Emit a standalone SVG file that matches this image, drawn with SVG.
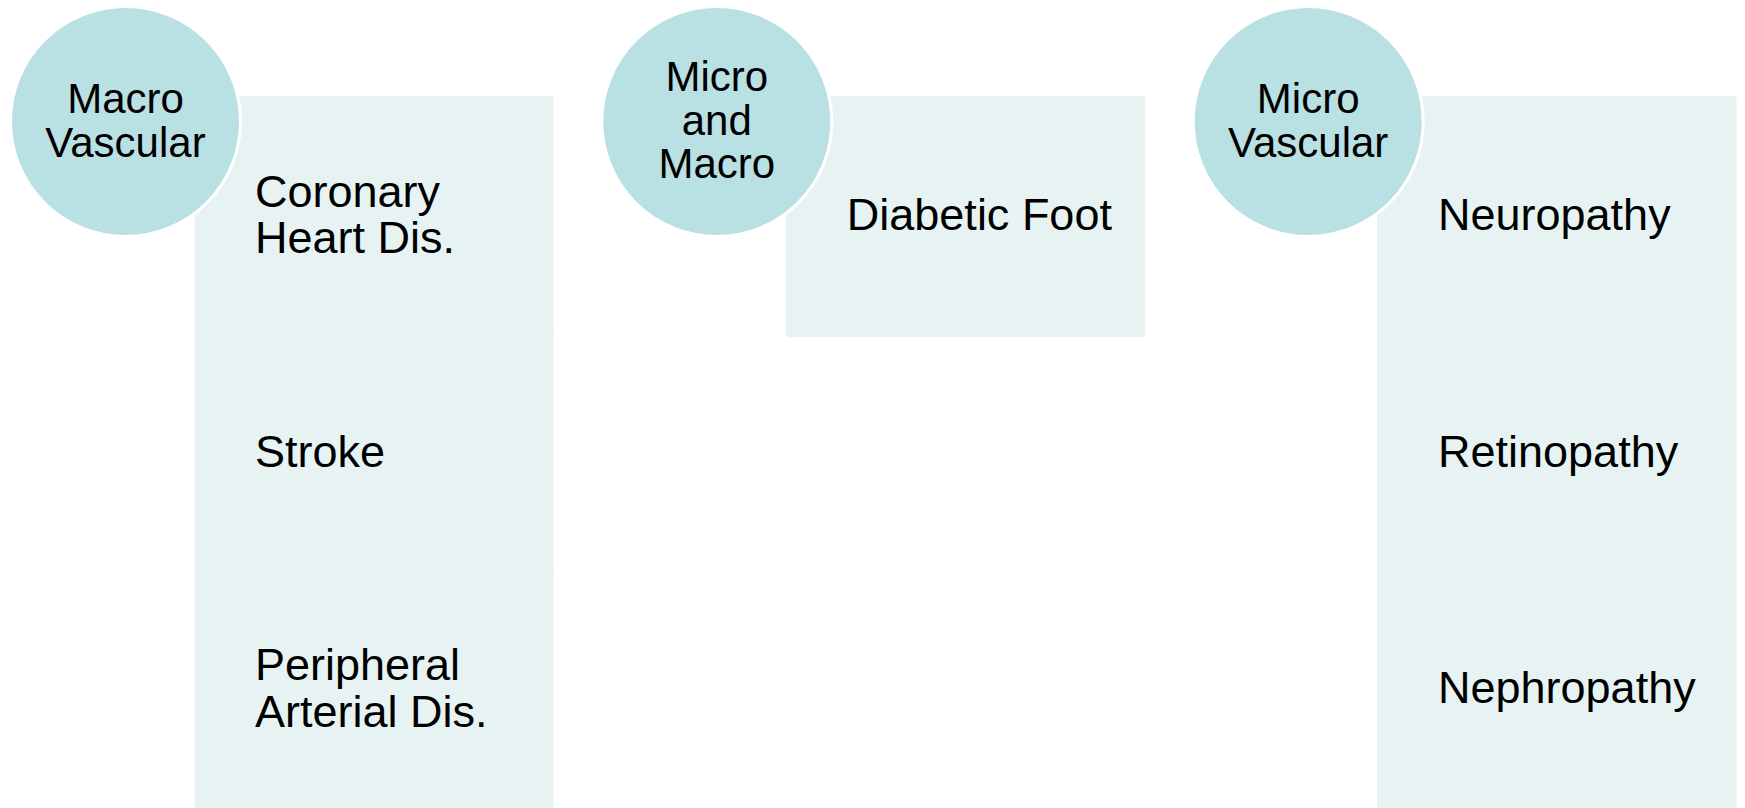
<svg xmlns="http://www.w3.org/2000/svg" width="1745" height="808" viewBox="0 0 1745 808">
<style>
.row{fill:#e7f3f3}
.sep{stroke:#e3f0f0;stroke-width:1}
.circ{fill:#b9e0e3;stroke:#ffffff;stroke-width:3}
.t{font-family:"Liberation Sans",Arial,sans-serif;font-size:45px;fill:#000}
.c{font-family:"Liberation Sans",Arial,sans-serif;font-size:42px;fill:#000;text-anchor:middle}
</style>
<rect width="1745" height="808" fill="#ffffff"/>
<g id="col1-rows">
<rect class="row" x="194.5" y="96" width="359" height="716" rx="3"/>
<line class="sep" x1="194.5" y1="333.5" x2="553.5" y2="333.5"/>
<line class="sep" x1="194.5" y1="570.5" x2="553.5" y2="570.5"/>
</g>
<g id="node-coronary"><text class="t" x="255" y="206.7">Coronary</text><text class="t" x="255" y="253.3">Heart Dis.</text></g>
<g id="node-stroke"><text class="t" x="255" y="466.7">Stroke</text></g>
<g id="node-peripheral"><text class="t" x="255" y="680">Peripheral</text><text class="t" x="255" y="726.7">Arterial Dis.</text></g>
<g id="node-macro"><circle class="circ" cx="125.5" cy="121.5" r="115"/><text class="c" x="125.5" y="113.3">Macro</text><text class="c" x="125.5" y="156.7">Vascular</text></g>

<g id="col2-rows">
<rect class="row" x="785.8" y="96" width="359.5" height="241" rx="3"/>
</g>
<g id="node-foot"><text class="t" x="846.8" y="230">Diabetic Foot</text></g>
<g id="node-micromacro"><circle class="circ" cx="716.8" cy="121.5" r="115"/><text class="c" x="716.8" y="90.7">Micro</text><text class="c" x="716.8" y="135">and</text><text class="c" x="716.8" y="178.3">Macro</text></g>

<g id="col3-rows">
<rect class="row" x="1377" y="96" width="359.5" height="716" rx="3"/>
<line class="sep" x1="1377" y1="333.5" x2="1736.5" y2="333.5"/>
<line class="sep" x1="1377" y1="570.5" x2="1736.5" y2="570.5"/>
</g>
<g id="node-neuro"><text class="t" x="1438" y="230">Neuropathy</text></g>
<g id="node-retino"><text class="t" x="1438" y="466.7">Retinopathy</text></g>
<g id="node-nephro"><text class="t" x="1438" y="703.3">Nephropathy</text></g>
<g id="node-micro"><circle class="circ" cx="1308.2" cy="121.5" r="115"/><text class="c" x="1308.2" y="113.3">Micro</text><text class="c" x="1308.2" y="156.7">Vascular</text></g>
<g id="connectors"></g>
</svg>
